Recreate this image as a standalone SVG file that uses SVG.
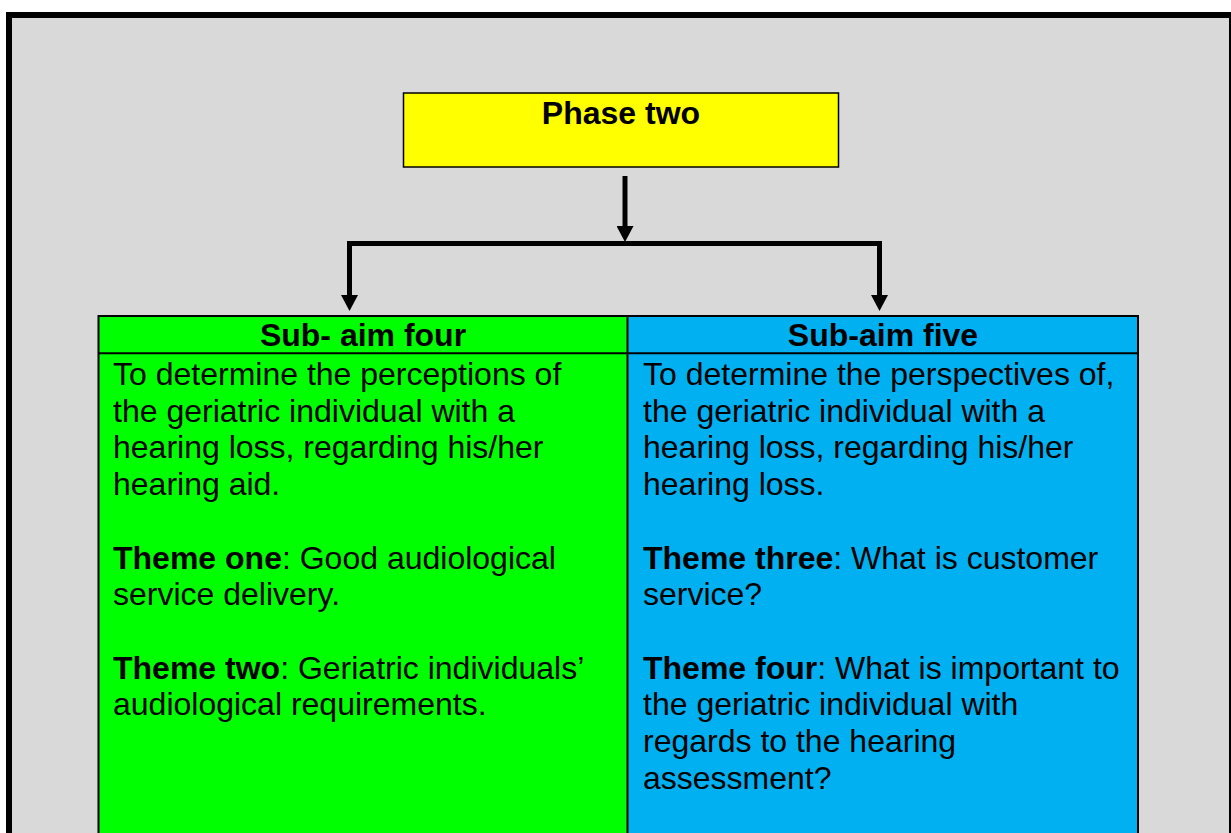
<svg xmlns="http://www.w3.org/2000/svg" width="1231" height="833" viewBox="0 0 1231 833">
  <style>
    .frame { fill: #D9D9D9; stroke: #000; stroke-width: 6; }
    .phase { fill: #FFFF00; stroke: #000; stroke-width: 1.5; }
    .green { fill: #00FF00; }
    .blue { fill: #00B0F0; }
    .grid { fill: none; stroke: #000; stroke-width: 2; }
    .link { fill: none; stroke: #000; stroke-width: 5; stroke-linejoin: miter; }
    text { font-family: "Liberation Sans", Arial, sans-serif; fill: #000; }
    .head { font-size: 32px; font-weight: bold; text-anchor: middle; }
    .body { font-size: 32px; }
    .b { font-weight: bold; }
  </style>
  <defs>
    <marker id="arrow" viewBox="0 0 16 17" refX="0" refY="8.5" markerWidth="16" markerHeight="17" markerUnits="userSpaceOnUse" orient="auto-start-reverse">
      <path d="M0,0 L16,8.5 L0,17 Z" fill="#000"/>
    </marker>
  </defs>

  <!-- background panel -->
  <rect class="frame" x="9" y="15" width="1223" height="900"/>

  <!-- top phase box -->
  <g id="phase-two">
    <rect class="phase" x="403.5" y="93" width="435" height="74"/>
    <text class="head" x="621" y="124">Phase two</text>
  </g>

  <!-- connectors -->
  <g id="connectors">
    <path class="link" d="M625,176 V226" marker-end="url(#arrow)"/>
    <path class="link" d="M349.5,295 V243.5 H879.5 V295" marker-start="url(#arrow)" marker-end="url(#arrow)"/>
  </g>

  <!-- left column -->
  <g id="sub-aim-four">
    <rect class="green" x="98.5" y="316" width="529" height="530"/>
    <text class="head" x="363" y="346">Sub- aim four</text>
    <text class="body" x="113">
      <tspan x="113" y="385">To determine the perceptions of</tspan>
      <tspan x="113" y="421.7">the geriatric individual with a</tspan>
      <tspan x="113" y="458.4">hearing loss, regarding his/her</tspan>
      <tspan x="113" y="495.1">hearing aid.</tspan>
      <tspan x="113" y="568.5"><tspan class="b">Theme one</tspan>: Good audiological</tspan>
      <tspan x="113" y="605.2">service delivery.</tspan>
      <tspan x="113" y="678.6"><tspan class="b">Theme two</tspan>: Geriatric individuals’</tspan>
      <tspan x="113" y="715.3">audiological requirements.</tspan>
    </text>
  </g>

  <!-- right column -->
  <g id="sub-aim-five">
    <rect class="blue" x="627.5" y="316" width="510.5" height="530"/>
    <text class="head" x="883" y="346">Sub-aim five</text>
    <text class="body" x="643">
      <tspan x="643" y="385">To determine the perspectives of,</tspan>
      <tspan x="643" y="421.7">the geriatric individual with a</tspan>
      <tspan x="643" y="458.4">hearing loss, regarding his/her</tspan>
      <tspan x="643" y="495.1">hearing loss.</tspan>
      <tspan x="643" y="568.5"><tspan class="b">Theme three</tspan>: What is customer</tspan>
      <tspan x="643" y="605.2">service?</tspan>
      <tspan x="643" y="678.6"><tspan class="b">Theme four</tspan>: What is important to</tspan>
      <tspan x="643" y="715.3">the geriatric individual with</tspan>
      <tspan x="643" y="752">regards to the hearing</tspan>
      <tspan x="643" y="788.7">assessment?</tspan>
    </text>
  </g>

  <!-- table rules -->
  <g id="table-lines">
    <rect class="grid" x="98.5" y="316" width="1039.5" height="530"/>
    <line class="grid" x1="98.5" y1="353.3" x2="1138" y2="353.3"/>
    <line class="grid" x1="627.5" y1="316" x2="627.5" y2="846"/>
  </g>
</svg>
